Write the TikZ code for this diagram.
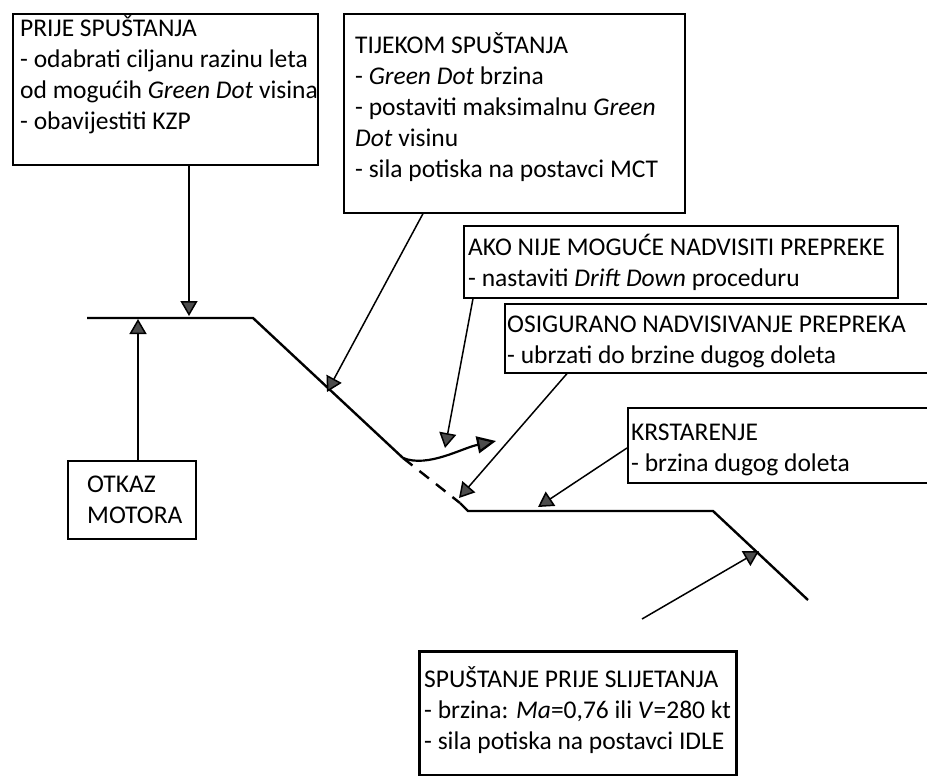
\documentclass[tikz,border=0pt]{standalone}
\usepackage{fontspec}
\setmainfont{Carlito}
\usetikzlibrary{arrows.meta}
\newcommand\firstln{\rule{0pt}{22pt}}
\begin{document}
\begin{tikzpicture}[x=1pt,y=-1pt,
  box/.style={draw, line width=1.6pt, inner sep=0pt, anchor=north west},
  txt/.style={anchor=north west, inner sep=0pt, align=left, font=\fontsize{25.5}{31}\selectfont},
  arr/.style={line width=1.5pt, -{Triangle[length=15pt,width=17pt,fill=black!70]}},
  path/.style={line width=2.4pt, line join=miter}]
\useasboundingbox (0,0) rectangle (927,776);
\fill[white] (0,0) rectangle (927,776);
% boxes
\node[box, minimum width=305pt, minimum height=151pt] (b1) at (12,13) {};
\node[txt] (t1) at (20,14) {\firstln PRIJE SPUŠTANJA\\- odabrati ciljanu razinu leta\\od mogućih \textit{Green Dot} visina\\- obavijestiti KZP};
\node[box, minimum width=341pt, minimum height=199pt] (b2) at (343,13) {};
\node[txt] (t2) at (355,31) {\firstln TIJEKOM SPUŠTANJA\\- \textit{Green Dot} brzina\\- postaviti maksimalnu \textit{Green}\\\textit{Dot} visinu\\- sila potiska na postavci MCT};
\node[box, minimum width=434pt, minimum height=72pt] (b3) at (463,225) {};
\node[txt] (t3) at (468,233) {\firstln AKO NIJE MOGUĆE NADVISITI PREPREKE\\- nastaviti \textit{Drift Down} proceduru};
\node[box, minimum width=440pt, minimum height=69pt] (b4) at (504,303) {};
\node[txt] (t4) at (507,310) {\firstln OSIGURANO NADVISIVANJE PREPREKA\\- ubrzati do brzine dugog doleta};
\node[box, minimum width=128pt, minimum height=78pt] (b5) at (67,460) {};
\node[txt] (t5) at (87,470) {\firstln OTKAZ\\MOTORA};
\node[box, minimum width=320pt, minimum height=75pt] (b6) at (627,407) {};
\node[txt] (t6) at (631,418) {\firstln KRSTARENJE\\- brzina dugog doleta};
\node[box, line width=2.6pt, minimum width=317pt, minimum height=124pt] (b7) at (418,650) {};
\node[txt] (t7) at (424,665) {\firstln SPUŠTANJE PRIJE SLIJETANJA\\- brzina: \textit{Ma}=0,76 ili \textit{V}=280 kt\\- sila potiska na postavci IDLE};
% flight path
\coordinate (p0) at (87,318);
\coordinate (p1) at (253,318);
\coordinate (p2) at (403,458);
\coordinate (p3) at (460,503);
\coordinate (p4) at (468,511);
\coordinate (p5) at (713,511);
\coordinate (p6) at (808,600);
\draw[path] (p0) -- (p1) -- (p2);
\draw[path, dash pattern=on 12pt off 9pt] (p2) -- (p3);
\draw[path] (p3) -- (p4) -- (p5) -- (p6);
\coordinate (q1) at (496,441);
\draw[line width=2.2pt, -{Triangle[length=19pt,width=17pt,fill=black!70]}] (p2) .. controls (428,468) and (462,448) .. (q1);
% arrows
\coordinate (e1) at (189,316);
\coordinate (e2) at (138,319);
\coordinate (e3) at (327,392);
\coordinate (e4) at (445,448);
\coordinate (e5) at (459,498);
\coordinate (e6) at (538,507);
\coordinate (e7) at (759,551);
\coordinate (s7) at (642,619);
\draw[arr] ([xshift=177pt]b1.south west) -- (e1);
\draw[arr] ([xshift=71pt]b5.north west) -- (e2);
\draw[arr] ([xshift=80pt]b2.south west) -- (e3);
\draw[arr] ([xshift=10pt]b3.south west) -- (e4);
\draw[arr] ([xshift=63pt]b4.south west) -- (e5);
\draw[arr] ([yshift=-41pt]b6.north west) -- (e6);
\draw[arr] (s7) -- (e7);
\end{tikzpicture}
\end{document}
